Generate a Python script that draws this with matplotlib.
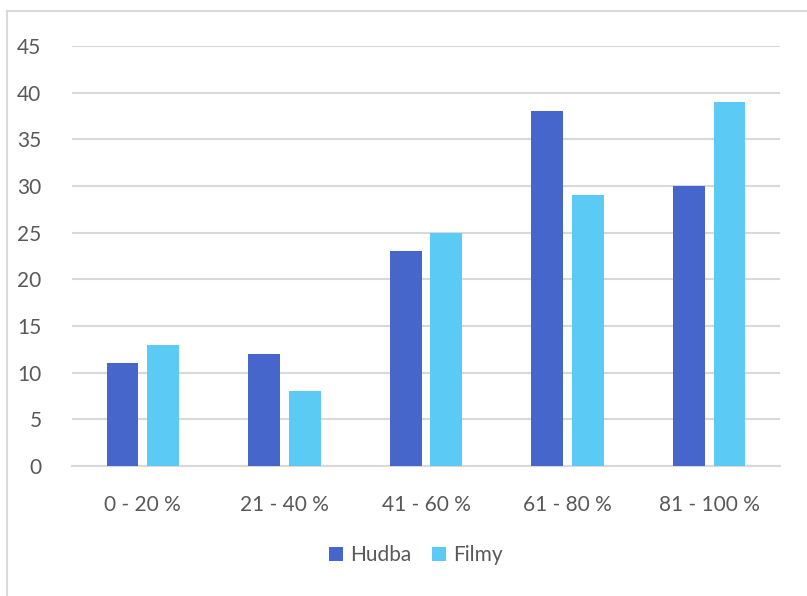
import matplotlib
matplotlib.use('Agg')
import matplotlib.pyplot as plt
from matplotlib.patches import Rectangle
import numpy as np

# data
categories = ['0 - 20 %', '21 - 40 %', '41 - 60 %', '61 - 80 %', '81 - 100 %']
hudba = [11, 12, 23, 38, 30]
filmy = [13, 8, 25, 29, 39]
yticks = [0, 5, 10, 15, 20, 25, 30, 35, 40, 45]

plt.rcParams['font.family'] = ['Lato', 'DejaVu Sans']

W, H = 807, 596
fig = plt.figure(figsize=(W / 100, H / 100), dpi=100)
ax = fig.add_axes([72 / W, 1 - 466 / H, (780 - 72) / W, (466 - 46) / H])

x = np.arange(len(categories))
bw = 0.224
off = 0.143
ax.bar(x - off, hudba, width=bw, color='#4666CB', label='Hudba', zorder=3)
ax.bar(x + off, filmy, width=bw, color='#5BCBF5', label='Filmy', zorder=3)

ax.set_xlim(-0.5, len(categories) - 0.5)
ax.set_ylim(0, 45)
ax.set_yticks(yticks)
ax.set_xticks(x)
ax.set_xticklabels(categories)
ax.grid(axis='y', color='#D9D9D9', linewidth=1.5, zorder=0)
for s in ['top', 'right', 'left']:
    ax.spines[s].set_visible(False)
ax.spines['bottom'].set_color('#D9D9D9')
ax.spines['bottom'].set_linewidth(1.5)
ax.tick_params(axis='both', length=0, labelsize=15, colors='#595959')
ax.tick_params(axis='y', pad=22)
ax.tick_params(axis='x', pad=21)

leg = fig.legend(loc='center', bbox_to_anchor=(416 / W, 1 - 555 / H), ncol=2,
                 frameon=False, fontsize=15, handlelength=0.65, handleheight=0.65,
                 handletextpad=0.35, columnspacing=1.0)
for t in leg.get_texts():
    t.set_color('#595959')

# light border around the chart area
fig.patches.append(Rectangle((7 / W, -0.1), 1.2, 1 - 11 / H + 0.1, transform=fig.transFigure,
                             fill=False, edgecolor='#D9D9D9', linewidth=1.5))

fig.savefig('out.png', dpi=100)
